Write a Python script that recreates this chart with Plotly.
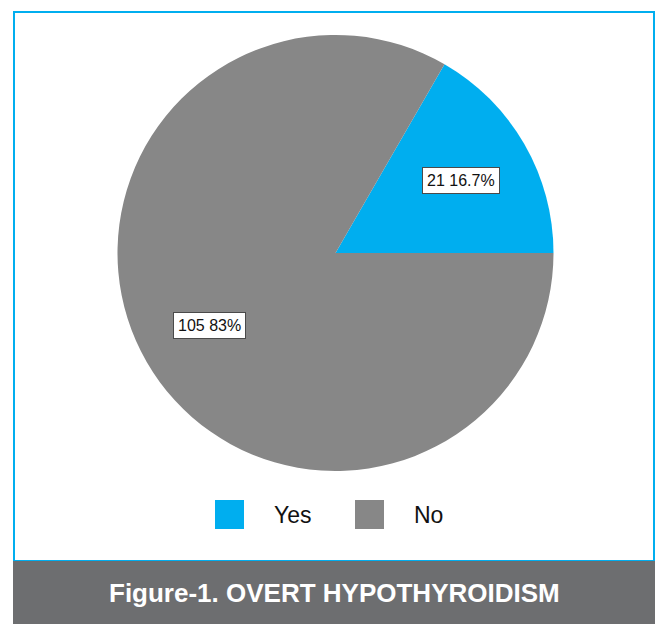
import math
import plotly.graph_objects as go

# ---- data ----
categories = ["Yes", "No"]
counts = [21, 105]
pct_labels = ["16.7%", "83%"]
colors = ["#00aeef", "#878787"]
title_text = "Figure-1. OVERT HYPOTHYROIDISM"

W, H = 655, 624
# pie geometry (pixels)
cx, cy, R = 335.5, 253.0, 218.0


def px(x):
    return x / W


def py(y):
    return 1 - y / H


total = sum(counts)
# first slice starts at 3 o'clock and runs counterclockwise
rotation = 90 - 360 * counts[0] / total

fig = go.Figure()
fig.add_trace(go.Pie(
    labels=categories,
    values=counts,
    marker=dict(colors=colors, line=dict(width=0)),
    sort=False,
    direction="counterclockwise",
    rotation=rotation,
    textinfo="none",
    hoverinfo="label+value+percent",
    showlegend=False,
    domain=dict(x=[px(cx - R), px(cx + R)], y=[py(cy + R), py(cy - R)]),
))

annotations = []
shapes = []

# slice labels placed along each slice's mid-angle
cum = 0
for v, p in zip(counts, pct_labels):
    mid = (cum + v / 2) / total * 2 * math.pi
    cum += v
    lx = cx + 0.667 * R * math.cos(mid)
    ly = cy - 0.667 * R * math.sin(mid)
    annotations.append(dict(
        x=px(lx), y=py(ly), xref="paper", yref="paper",
        text=f"{v} {p}", showarrow=False,
        font=dict(family="Liberation Sans, Arial, sans-serif", size=16, color="#111111"),
        bgcolor="white", bordercolor="#4a4a4a", borderwidth=1, borderpad=4,
        xanchor="center", yanchor="middle",
    ))

# outer blue frame
shapes.append(dict(type="rect", xref="paper", yref="paper",
                   x0=px(14), x1=px(654), y0=py(561), y1=py(12),
                   line=dict(color="#00aeef", width=2), fillcolor="rgba(0,0,0,0)", layer="below"))
# footer band
shapes.append(dict(type="rect", xref="paper", yref="paper",
                   x0=px(13), x1=1.0, y0=0.0, y1=py(561),
                   line=dict(width=0), fillcolor="#6d6e70", layer="below"))
annotations.append(dict(
    x=px(334.5), y=py(593), xref="paper", yref="paper", text=f"<b>{title_text}</b>",
    showarrow=False, xanchor="center", yanchor="middle",
    font=dict(family="Liberation Sans, Arial, sans-serif", size=26, color="white"),
))

# custom legend
leg_x = [215, 355]
for i, (name, col) in enumerate(zip(categories, colors)):
    x0 = leg_x[i]
    shapes.append(dict(type="rect", xref="paper", yref="paper",
                       x0=px(x0), x1=px(x0 + 29), y0=py(529), y1=py(500),
                       line=dict(width=0), fillcolor=col))
    annotations.append(dict(
        x=px(x0 + 57), y=py(515), xref="paper", yref="paper", text=name,
        showarrow=False, xanchor="left", yanchor="middle",
        font=dict(family="Liberation Sans, Arial, sans-serif", size=23, color="#111111"),
    ))

fig.update_layout(
    width=W, height=H,
    margin=dict(l=0, r=0, t=0, b=0),
    paper_bgcolor="white",
    plot_bgcolor="white",
    shapes=shapes,
    annotations=annotations,
    showlegend=False,
)

fig.write_html("out.html")
